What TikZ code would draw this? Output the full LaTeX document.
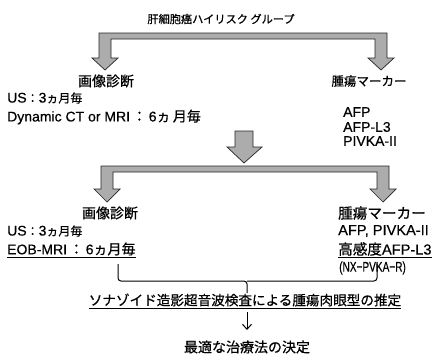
\documentclass[tikz,border=0pt]{standalone}
\usepackage{fontspec}
\usepackage{graphicx}
\setmainfont{Liberation Sans}[FakeBold=0.4]
\newfontfamily\jpf{Noto Sans CJK JP}[FakeBold=0.6]
\usetikzlibrary{arrows.meta}
\newcommand\J[1]{{\jpf #1}}
\newcommand\JS[1]{{\jpf\fontsize{12}{14}\selectfont #1}}
\begin{document}
\begin{tikzpicture}[x=1pt,y=-1pt,
  txt/.style={inner sep=0pt, font=\fontsize{14}{16}\selectfont},
  lt/.style={txt, anchor=west},
  big/.style={font=\fontsize{14.6}{17}\selectfont},
  bigarrow/.style={fill=gray!65, draw=black!85, line width=0.7pt, line join=miter},
  thin/.style={draw=black, line width=1pt}
  ]
\clip (0,0) rectangle (435,359);
\fill[white] (0,0) rectangle (435,359);

% texts
\node[txt, font=\fontsize{11.2}{13}\selectfont] (title) at (221,19) {\J{肝細胞癌ハイリスク グループ}};
\node[txt] (img1) at (106,81) {\J{画像診断}};
\node[txt, font=\fontsize{12.5}{15}\selectfont] (mk1) at (369,81) {\J{腫瘍マーカー}};
\node[lt] (us1) at (7,98) {US\JS{：}3\JS{ヵ月毎}};
\node[lt] (dyn) at (7,117) {Dynamic CT or MRI\,\J{：}\,6\J{ヵ}\,\J{月毎}};
\node[lt] (afp1) at (343,112) {AFP};
\node[lt] (afpl) at (343,127) {AFP-L3};
\node[lt] (piv1) at (343,141) {PIVKA-II};

\node[txt] (img2) at (110,213) {\J{画像診断}};
\node[lt, big] (mk2) at (338,213) {\J{腫瘍マーカー}};
\node[lt] (us2) at (7,231) {US\JS{：}3\JS{ヵ月毎}};
\node[lt] (eob) at (7,250) {\underline{EOB-MRI\,\J{：}\,6\J{ヵ月毎}}};
\node[lt, big] (afp2) at (338,231) {AFP, PIVKA-II};
\node[lt, big] (hs) at (338,250) {\underline{\J{高感度}AFP-L3}};
\node[lt] (nx) at (339,268) {\scalebox{0.72}[1]{(NX−PVKA−R)}};

\node[txt, font=\fontsize{13.6}{16}\selectfont] (sono) at (245,301) {\underline{\J{ソナゾイド造影超音波検査による腫瘍肉眼型の推定}}};
\node[txt] (best) at (247,347) {\J{最適な治療法の決定}};

% top split arrow
\path[bigarrow] (105,70) -- (92,58) -- (99,58) -- (99,33) -- (387,33) -- (387,58) -- (394,58)
  -- (381,70) -- (368,58) -- (375,58) -- (375,39) -- (111,39) -- (111,58) -- (118,58) -- cycle;
% middle arrow
\path[bigarrow] (235,131) -- (253,131) -- (253,147) -- (262,147) -- (244,163) -- (227,147) -- (235,147) -- cycle;
% second split arrow
\path[bigarrow] (107,202) -- (94,189) -- (101,189) -- (101,166) -- (389,166) -- (389,189) -- (396,189)
  -- (383,202) -- (370,189) -- (377,189) -- (377,172) -- (113,172) -- (113,189) -- (120,189) -- cycle;

% brace
\draw[thin, rounded corners=3pt] (118,264) -- (118,281) -- (247,281) -- (247,293);
\draw[thin, rounded corners=3pt] (377,264) -- (377,281) -- (247,281);
% final arrow
\draw[thin, -{Straight Barb[length=5pt,width=9pt]}] (247,312) -- (247,330);
\end{tikzpicture}
\end{document}
